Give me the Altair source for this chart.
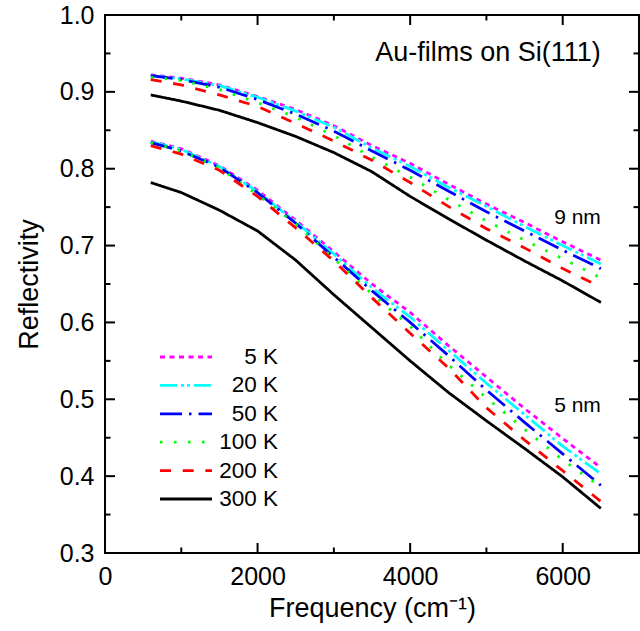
import altair as alt
import pandas as pd

# ---------------- data ----------------
freq = [600, 1000, 1500, 2000, 2500, 3000, 3500, 4000, 4500, 5000, 5500, 6000, 6500]
temps = ["5 K", "20 K", "50 K", "100 K", "200 K", "300 K"]

# 9 nm film
r9_5K = [0.922, 0.918, 0.909, 0.894, 0.877, 0.856, 0.830, 0.807, 0.780, 0.754, 0.730, 0.705, 0.681]
r9_20K = [0.921, 0.917, 0.908, 0.893, 0.875, 0.854, 0.827, 0.803, 0.776, 0.751, 0.725, 0.700, 0.676]
r9_50K = [0.921, 0.916, 0.906, 0.890, 0.871, 0.849, 0.823, 0.798, 0.771, 0.744, 0.719, 0.694, 0.670]
r9_100K = [0.919, 0.915, 0.903, 0.886, 0.867, 0.843, 0.815, 0.789, 0.760, 0.732, 0.707, 0.683, 0.658]
r9_200K = [0.916, 0.909, 0.896, 0.881, 0.859, 0.836, 0.811, 0.782, 0.751, 0.722, 0.697, 0.670, 0.646]
r9_300K = [0.896, 0.888, 0.876, 0.860, 0.842, 0.821, 0.796, 0.764, 0.735, 0.707, 0.680, 0.654, 0.626]

# 5 nm film
r5_5K = [0.836, 0.826, 0.804, 0.772, 0.733, 0.692, 0.650, 0.613, 0.570, 0.529, 0.488, 0.449, 0.411]
r5_20K = [0.835, 0.825, 0.803, 0.770, 0.731, 0.689, 0.645, 0.607, 0.564, 0.521, 0.480, 0.439, 0.403]
r5_50K = [0.834, 0.823, 0.802, 0.769, 0.729, 0.685, 0.641, 0.600, 0.557, 0.512, 0.470, 0.429, 0.388]
r5_100K = [0.834, 0.823, 0.801, 0.766, 0.728, 0.683, 0.637, 0.595, 0.545, 0.502, 0.461, 0.421, 0.386]
r5_200K = [0.830, 0.819, 0.798, 0.764, 0.723, 0.680, 0.632, 0.586, 0.541, 0.489, 0.447, 0.407, 0.367]
r5_300K = [0.782, 0.769, 0.746, 0.719, 0.681, 0.636, 0.593, 0.550, 0.509, 0.472, 0.436, 0.399, 0.358]

series = {
    ("9 nm", "5 K"): r9_5K, ("9 nm", "20 K"): r9_20K, ("9 nm", "50 K"): r9_50K,
    ("9 nm", "100 K"): r9_100K, ("9 nm", "200 K"): r9_200K, ("9 nm", "300 K"): r9_300K,
    ("5 nm", "5 K"): r5_5K, ("5 nm", "20 K"): r5_20K, ("5 nm", "50 K"): r5_50K,
    ("5 nm", "100 K"): r5_100K, ("5 nm", "200 K"): r5_200K, ("5 nm", "300 K"): r5_300K,
}

x_major = [0, 2000, 4000, 6000]
x_minor = [1000, 3000, 5000]
y_major = [0.3, 0.4, 0.5, 0.6, 0.7, 0.8, 0.9, 1.0]
y_minor = [0.35, 0.45, 0.55, 0.65, 0.75, 0.85, 0.95]

notes_text = ["Au-films on Si(111)", "9 nm", "5 nm"]
notes_x = [6500, 6500, 6500]
notes_y = [0.940, 0.7286, 0.4836]
notes_size = [27, 21, 21]

# ---------------- styles ----------------
colors = ["#ff00ff", "#00ffff", "#0000ff", "#00ff00", "#ff0000", "#000000"]
dashes = [[5, 4.5], [17, 4, 3, 3, 3, 4], [22, 7, 2.5, 7], [2.5, 11.5], [11, 11.7], [1, 0]]
FONT = "Liberation Sans"
W, H = 534, 538
XDOM = [0, 7000]
YDOM = [0.3, 1.0]
MAJOR_PX, MINOR_PX = 10, 5.5

rows = []
for (film, t), vals in series.items():
    for f, v in zip(freq, vals):
        rows.append({"film": film, "temp": t, "freq": f, "R": v})
df = pd.DataFrame(rows)
df["order"] = df["temp"].map({t: i for i, t in enumerate(temps)})

notes = pd.DataFrame({"text": notes_text, "x": notes_x, "y": notes_y, "size": notes_size})
leg = pd.DataFrame({"temp": temps, "row": list(range(len(temps)))})

# inward tick segments as two-point lines (lengths converted from pixels to data units)
px_x = (XDOM[1] - XDOM[0]) / W
px_y = (YDOM[1] - YDOM[0]) / H
segs = []
for vals, n in [(x_major, MAJOR_PX), (x_minor, MINOR_PX)]:
    for v in vals:
        segs.append(((v, YDOM[0]), (v, YDOM[0] + n * px_y)))
        segs.append(((v, YDOM[1]), (v, YDOM[1] - n * px_y)))
for vals, n in [(y_major, MAJOR_PX), (y_minor, MINOR_PX)]:
    for v in vals:
        segs.append(((XDOM[0], v), (XDOM[0] + n * px_x, v)))
        segs.append(((XDOM[1], v), (XDOM[1] - n * px_x, v)))
tk = []
for i, (p, q) in enumerate(segs):
    tk.append({"id": i, "k": 0, "tx": p[0], "ty": p[1]})
    tk.append({"id": i, "k": 1, "tx": q[0], "ty": q[1]})
ticks_df = pd.DataFrame(tk)


def xs():
    return alt.Scale(domain=XDOM, nice=False, zero=False)


def ys():
    return alt.Scale(domain=YDOM, nice=False, zero=False)


def lab_axis(values, fmt, title, is_x):
    return alt.Axis(
        values=values, format=fmt, domain=False, grid=False, ticks=False,
        labelFlush=False, labelOverlap=False,
        labelFont=FONT, labelFontSize=25, labelColor="black", labelPadding=11,
        title=title, titleFont=FONT, titleFontSize=27, titleFontWeight="normal",
        titleColor="black", titlePadding=6 if is_x else 16,
    )


color_enc = alt.Color("temp:N", scale=alt.Scale(domain=temps, range=colors), legend=None)
dash_enc = alt.StrokeDash("temp:N", scale=alt.Scale(domain=temps, range=dashes), legend=None)

main = alt.Chart(df).mark_line(strokeWidth=2.8, clip=True).encode(
    x=alt.X("freq:Q", scale=xs(), axis=lab_axis(x_major, "d", "Frequency (cm\u207b\u00b9)", True)),
    y=alt.Y("R:Q", scale=ys(), axis=lab_axis(y_major, ".1f", "Reflectivity", False)),
    color=color_enc,
    strokeDash=dash_enc,
    detail="film:N",
    order=alt.Order("order:Q", sort="descending"),
)

ticks = alt.Chart(ticks_df).mark_line(strokeWidth=2, color="black").encode(
    x=alt.X("tx:Q", scale=xs(), axis=None),
    y=alt.Y("ty:Q", scale=ys(), axis=None),
    detail="id:N",
    order="k:Q",
)

annot = alt.Chart(notes).mark_text(align="right", baseline="alphabetic", font=FONT, color="black").encode(
    x=alt.X("x:Q", scale=xs(), axis=None),
    y=alt.Y("y:Q", scale=ys(), axis=None),
    text="text:N",
    size=alt.Size("size:Q", scale=None, legend=None),
)

leg_y = alt.Y("row:Q", scale=alt.Scale(domain=[0, 5], range=[342, 484]), axis=None)
leg_lines = alt.Chart(leg).mark_rule(strokeWidth=2.8).encode(
    y=leg_y, x=alt.value(55), x2=alt.value(107),
    color=color_enc, strokeDash=dash_enc,
)
leg_text = alt.Chart(leg).mark_text(align="right", baseline="middle", font=FONT,
                                    fontSize=22.5, color="black").encode(
    y=leg_y, x=alt.value(173), text="temp:N",
)

chart = alt.layer(main, ticks, annot, leg_lines, leg_text).resolve_scale(
    x="independent", y="independent"
).properties(
    width=W, height=H,
    padding={"left": 105, "top": 15, "right": 1, "bottom": 78},
    autosize=alt.AutoSizeParams(type="none"),
    background="white",
).configure_view(stroke="black", strokeWidth=2)

chart.save("out.html", embed_options={"renderer": "svg", "actions": False})
